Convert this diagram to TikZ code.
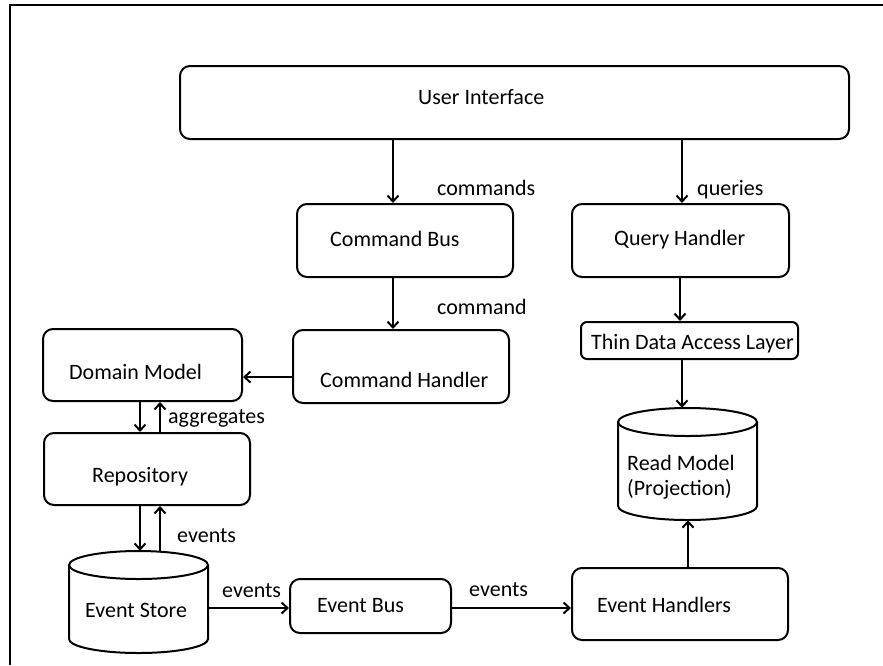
\documentclass[tikz,border=0pt]{standalone}
\usepackage{fontspec}
\setmainfont{Carlito}
\usetikzlibrary{arrows.meta}
\begin{document}
\begin{tikzpicture}[x=1pt,y=-1pt,
  box/.style={draw, line width=2pt, rounded corners=10pt, inner sep=0pt},
  area/.style={inner sep=0pt},
  cyl/.style={line width=2pt},
  lbl/.style={anchor=base west, inner sep=0pt, font=\fontsize{22}{26}\selectfont},
  arr/.style={line width=2pt, -{Straight Barb[length=6pt,width=11pt]}}
]
\useasboundingbox (0,0) rectangle (883,665);
\draw[line width=1.6pt] (10,665) -- (10,5) -- (883,5);

% boxes
\node[box, minimum width=669pt, minimum height=73pt] (ui) at (514.5,102.5) {};
\node[box, minimum width=216pt, minimum height=73pt] (cb) at (405,240.5) {};
\node[box, minimum width=216pt, minimum height=73pt] (ch) at (401,366.5) {};
\node[box, minimum width=217pt, minimum height=73pt] (qh) at (680.5,240.5) {};
\node[box, rounded corners=6pt, minimum width=217pt, minimum height=37pt] (thin) at (689.5,340.5) {};
\node[box, minimum width=199pt, minimum height=72pt] (dm) at (142.5,365) {};
\node[box, minimum width=206pt, minimum height=72pt] (repo) at (147,469) {};
\node[box, minimum width=161pt, minimum height=54pt] (eb) at (370.5,606) {};
\node[box, minimum width=216pt, minimum height=72pt] (eh) at (680,604) {};

% cylinders
\node[area, minimum width=139pt, minimum height=102pt] (es) at (138.5,602) {};
\draw[cyl] (138.5,565) ellipse [x radius=69.5, y radius=14];
\draw[cyl] (69,565) -- (69,639) arc[start angle=180, end angle=0, x radius=69.5, y radius=14] -- (208,565);
\node[area, minimum width=139pt, minimum height=112pt] (rm) at (687.5,464) {};
\draw[cyl] (687.5,422) ellipse [x radius=69.5, y radius=14];
\draw[cyl] (618,422) -- (618,506) arc[start angle=180, end angle=0, x radius=69.5, y radius=14] -- (757,422);

% texts
\node[lbl] (ui-t) at (418,104) {User Interface};
\node[lbl] (cb-t) at (330,246) {Command Bus};
\node[lbl] (ch-t) at (320,387) {Command Handler};
\node[lbl] (qh-t) at (614,245) {Query Handler};
\node[lbl] (thin-t) at (591,349) {Thin Data Access Layer};
\node[lbl] (dm-t) at (69,379) {Domain Model};
\node[lbl] (repo-t) at (92,482) {Repository};
\node[lbl] (es-t) at (85,617) {Event Store};
\node[lbl] (eb-t) at (317,612) {Event Bus};
\node[lbl] (eh-t) at (597,612) {Event Handlers};
\node[lbl] (rm-t1) at (627,470) {Read Model};
\node[lbl] (rm-t2) at (627,495) {(Projection)};

% connector labels
\node[lbl] (l-commands) at (437,195) {commands};
\node[lbl] (l-command) at (437,314) {command};
\node[lbl] (l-queries) at (697,195) {queries};
\node[lbl] (l-aggr) at (168,423) {aggregates};
\node[lbl] (l-ev1) at (177,542) {events};
\node[lbl] (l-ev2) at (222,597) {events};
\node[lbl] (l-ev3) at (469,596) {events};

% guide coordinates
\coordinate (xa) at (393,0);
\coordinate (xb) at (682,0);
\coordinate (xc) at (680,0);
\coordinate (xd) at (140,0);
\coordinate (xe) at (160,0);
\coordinate (xf) at (688,0);
\coordinate (ycd) at (0,377);
\coordinate (yev) at (0,608);

% connectors
\draw[arr] (ui.south -| xa) -- (cb.north -| xa);
\draw[arr] (ui.south -| xb) -- (qh.north -| xb);
\draw[arr] (cb.south -| xa) -- (ch.north -| xa);
\draw[arr] (qh.south -| xc) -- (thin.north -| xc);
\draw[arr] (thin.south -| xb) -- (rm.north -| xb);
\draw[arr] (ch.west |- ycd) -- (dm.east |- ycd);
\draw[arr] (dm.south -| xd) -- (repo.north -| xd);
\draw[arr] (repo.north -| xe) -- (dm.south -| xe);
\draw[arr] (repo.south -| xd) -- (es.north -| xd);
\draw[arr] (es.north -| xe) -- (repo.south -| xe);
\draw[arr] (es.east |- yev) -- (eb.west |- yev);
\draw[arr] (eb.east |- yev) -- (eh.west |- yev);
\draw[arr] (eh.north -| xf) -- (rm.south -| xf);
\end{tikzpicture}
\end{document}
